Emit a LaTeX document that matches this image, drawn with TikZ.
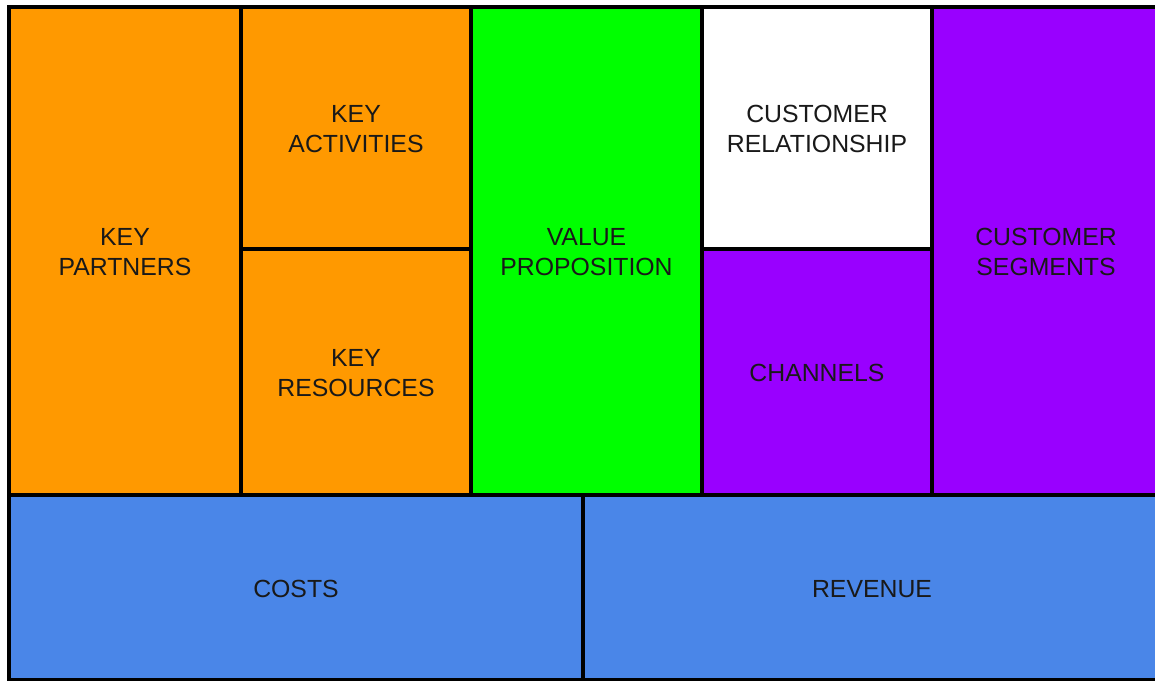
\documentclass[tikz,border=0pt]{standalone}
\usepackage{fontspec}
\setmainfont{Liberation Sans}
\definecolor{kporange}{HTML}{FF9900}
\definecolor{kpgreen}{HTML}{00FF00}
\definecolor{kppurple}{HTML}{9900FF}
\definecolor{kpblue}{HTML}{4A86E8}
\begin{document}
\begin{tikzpicture}[x=0.5pt,y=-0.5pt,
  cell/.style={draw=black,line width=2pt},
  lbl/.style={font=\fontsize{12.4}{14.6}\selectfont,align=center,text=black!90,inner sep=0pt}]
\useasboundingbox (0,0) rectangle (1155,680);
\clip (0,0) rectangle (1155,680);
\fill[white] (0,0) rectangle (1155,680);
\filldraw[cell,fill=kporange] (9,7) rectangle (241,495);
\filldraw[cell,fill=kporange] (241,7) rectangle (471,249);
\filldraw[cell,fill=kporange] (241,249) rectangle (471,495);
\filldraw[cell,fill=kpgreen] (471,7) rectangle (702,495);
\filldraw[cell,fill=white] (702,7) rectangle (932,249);
\filldraw[cell,fill=kppurple] (702,249) rectangle (932,495);
\filldraw[cell,fill=kppurple] (932,7) rectangle (1162,495);
\filldraw[cell,fill=kpblue] (9,495) rectangle (583,679.5);
\filldraw[cell,fill=kpblue] (583,495) rectangle (1162,679.5);
\node[lbl] (kp) at (125,252) {KEY\\PARTNERS};
\node[lbl] (ka) at (356,129) {KEY\\ACTIVITIES};
\node[lbl] (kr) at (356,373) {KEY\\RESOURCES};
\node[lbl] (vp) at (586.5,252) {VALUE\\PROPOSITION};
\node[lbl] (cr) at (817,129) {CUSTOMER\\RELATIONSHIP};
\node[lbl] (ch) at (817,373) {CHANNELS};
\node[lbl] (cs) at (1046,252) {CUSTOMER\\SEGMENTS};
\node[lbl] (co) at (296,589) {COSTS};
\node[lbl] (re) at (872,589) {REVENUE};
\end{tikzpicture}
\end{document}
